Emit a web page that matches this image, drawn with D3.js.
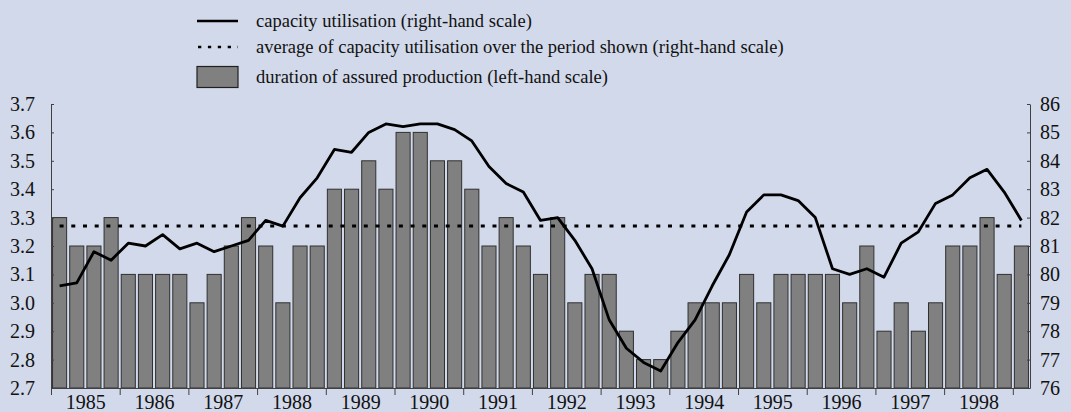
<!DOCTYPE html>
<html>
<head>
<meta charset="utf-8">
<script src="https://cdn.jsdelivr.net/npm/d3@7"></script>
<style>
  body { margin: 0; background: #d1d9ea; }
  svg { display: block; font-family: "Liberation Serif", "Times New Roman", serif; }
</style>
</head>
<body>
<svg id="chart"></svg>
<script>
// Quarterly data, 1985 Q1 to 1999 Q1
const years = d3.range(1985, 1999);

// duration of assured production (left-hand scale), months
const duration = [
  3.3, 3.2, 3.2, 3.3,
  3.1, 3.1, 3.1, 3.1,
  3.0, 3.1, 3.2, 3.3,
  3.2, 3.0, 3.2, 3.2,
  3.4, 3.4, 3.5, 3.4,
  3.6, 3.6, 3.5, 3.5,
  3.4, 3.2, 3.3, 3.2,
  3.1, 3.3, 3.0, 3.1,
  3.1, 2.9, 2.8, 2.8,
  2.9, 3.0, 3.0, 3.0,
  3.1, 3.0, 3.1, 3.1,
  3.1, 3.1, 3.0, 3.2,
  2.9, 3.0, 2.9, 3.0,
  3.2, 3.2, 3.3, 3.1,
  3.2
];

// capacity utilisation (right-hand scale), %
const capacity = [
  79.6, 79.7, 80.8, 80.5,
  81.1, 81.0, 81.4, 80.9,
  81.1, 80.8, 81.0, 81.2,
  81.9, 81.7, 82.7, 83.4,
  84.4, 84.3, 85.0, 85.3,
  85.2, 85.3, 85.3, 85.1,
  84.7, 83.8, 83.2, 82.9,
  81.9, 82.0, 81.2, 80.2,
  78.4, 77.4, 76.9, 76.6,
  77.6, 78.4, 79.6, 80.7,
  82.2, 82.8, 82.8, 82.6,
  82.0, 80.2, 80.0, 80.2,
  79.9, 81.1, 81.5, 82.5,
  82.8, 83.4, 83.7, 82.9,
  81.9
];

// average of capacity utilisation over the period shown
const capacityAvg = 81.7;

const leftTicks = [2.7, 2.8, 2.9, 3.0, 3.1, 3.2, 3.3, 3.4, 3.5, 3.6, 3.7];
const rightTicks = [76, 77, 78, 79, 80, 81, 82, 83, 84, 85, 86];

const legendItems = [
  "capacity utilisation (right-hand scale)",
  "average of capacity utilisation over the period shown (right-hand scale)",
  "duration of assured production (left-hand scale)"
];

// Set up SVG dimensions
const width = 1071, height = 412;
const plot = { left: 51, right: 1030, top: 104, bottom: 388 };

const svg = d3.select("#chart")
  .attr("width", width)
  .attr("height", height);

svg.append("rect")
  .attr("width", width)
  .attr("height", height)
  .attr("fill", "#d1d9ea");

// Scales
const x = d3.scaleBand()
  .domain(d3.range(duration.length))
  .range([plot.left, plot.right])
  .paddingInner(0.18)
  .paddingOuter(0.09);

const xYear = d3.scaleLinear()
  .domain([1985, 1985 + duration.length / 4])
  .range([plot.left, plot.right]);

const yL = d3.scaleLinear()
  .domain([2.7, 3.7])
  .range([plot.bottom, plot.top]);

const yR = d3.scaleLinear()
  .domain([76, 86])
  .range([plot.bottom, plot.top]);

const cx = i => x(i) + x.bandwidth() / 2;

// Bars
svg.append("g")
  .selectAll("rect")
  .data(duration)
  .enter().append("rect")
  .attr("x", (d, i) => x(i))
  .attr("y", d => yL(d))
  .attr("width", x.bandwidth())
  .attr("height", d => yL(2.7) - yL(d))
  .attr("fill", "#808080")
  .attr("stroke", "#303030")
  .attr("stroke-width", 1);

// Average line (dotted)
svg.append("line")
  .attr("x1", cx(0))
  .attr("x2", cx(duration.length - 1))
  .attr("y1", yR(capacityAvg))
  .attr("y2", yR(capacityAvg))
  .attr("stroke", "#000")
  .attr("stroke-width", 3)
  .attr("stroke-dasharray", "4,7.7");

// Capacity utilisation line
svg.append("path")
  .datum(capacity)
  .attr("fill", "none")
  .attr("stroke", "#000")
  .attr("stroke-width", 2.8)
  .attr("stroke-linejoin", "round")
  .attr("d", d3.line().x((d, i) => cx(i)).y(d => yR(d)));

// Axes
function styleAxis(g) {
  g.selectAll("path, line").attr("stroke", "#404040");
  g.selectAll("text").attr("fill", "#111").style("font-size", "20px").style("font-family", "Liberation Serif, Times New Roman, serif");
}

svg.append("g")
  .attr("transform", "translate(" + plot.left + ",0)")
  .call(d3.axisLeft(yL).tickValues(leftTicks).tickFormat(d3.format(".1f"))
    .tickSizeInner(-3).tickSizeOuter(0).tickPadding(16))
  .call(styleAxis);

svg.append("g")
  .attr("transform", "translate(" + plot.right + ",0)")
  .call(d3.axisRight(yR).tickValues(rightTicks).tickFormat(d3.format("d"))
    .tickSizeInner(-3).tickSizeOuter(0).tickPadding(10))
  .call(styleAxis);

// x axis: tick marks at year boundaries
svg.append("g")
  .attr("transform", "translate(0," + plot.bottom + ")")
  .call(d3.axisBottom(xYear).tickValues(d3.range(1985, 2000)).tickFormat("")
    .tickSizeInner(7).tickSizeOuter(0))
  .call(styleAxis);

// x axis: year labels centred in each year
svg.append("g")
  .attr("transform", "translate(0," + plot.bottom + ")")
  .call(d3.axisBottom(xYear).tickValues(years.map(y => y + 0.5)).tickFormat(d => Math.floor(d))
    .tickSize(0).tickPadding(7))
  .call(styleAxis)
  .call(g => g.select(".domain").remove());

// Legend
const legend = svg.append("g").attr("transform", "translate(197,0)");
const rowY = [21, 47, 77];

legend.append("line")
  .attr("x1", 0).attr("x2", 41)
  .attr("y1", rowY[0]).attr("y2", rowY[0])
  .attr("stroke", "#000").attr("stroke-width", 2.7);

legend.append("line")
  .attr("x1", 1).attr("x2", 41)
  .attr("y1", rowY[1]).attr("y2", rowY[1])
  .attr("stroke", "#000").attr("stroke-width", 2.7)
  .attr("stroke-dasharray", "3.3,6.6");

legend.append("rect")
  .attr("x", 0).attr("y", rowY[2] - 10.5)
  .attr("width", 41).attr("height", 21)
  .attr("fill", "#808080").attr("stroke", "#202020").attr("stroke-width", 1.2);

legend.selectAll("text.item")
  .data(legendItems)
  .enter().append("text")
  .attr("class", "item")
  .attr("x", 59)
  .attr("y", (d, i) => rowY[i] + 6)
  .attr("fill", "#111")
  .style("font-size", "18.5px")
  .text(d => d);
</script>
</body>
</html>
